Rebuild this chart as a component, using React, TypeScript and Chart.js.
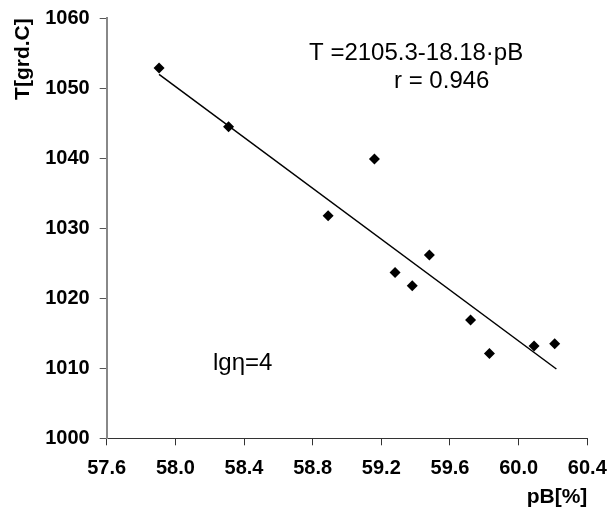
import React, { useEffect, useRef } from "react";
import { Chart, registerables } from "chart.js";

Chart.register(...registerables);

// Measured points
const pB = [57.905, 58.31, 58.89, 59.16, 59.28, 59.38, 59.48, 59.72, 59.83, 60.09, 60.21];
const T = [1052.9, 1044.5, 1031.8, 1039.9, 1023.7, 1021.8, 1026.2, 1016.9, 1012.1, 1013.2, 1013.5];

// Regression line end points
const fitX = [57.905, 60.22];
const fitY = [1052.0, 1009.9];

// Axis ticks
const xTicks = [57.6, 58.0, 58.4, 58.8, 59.2, 59.6, 60.0, 60.4];
const yTicks = [1000, 1010, 1020, 1030, 1040, 1050, 1060];

// Annotations (data coords: left x, baseline y)
const noteTexts = ["T =2105.3-18.18\u00b7pB", "r = 0.946", "lg\u03b7=4"];
const noteX = [58.779, 59.274, 58.219];
const noteY = [1054.1, 1050.0, 1009.8];

const FONT = "'Liberation Sans', Arial, Helvetica, sans-serif";

const notesPlugin = {
  id: "notes",
  afterDatasetsDraw(chart: any) {
    const { ctx, scales } = chart;
    ctx.save();
    ctx.fillStyle = "#000";
    ctx.font = `24px ${FONT}`;
    ctx.textAlign = "left";
    ctx.textBaseline = "alphabetic";
    noteTexts.forEach((t, i) => {
      const x = scales.x.getPixelForValue(noteX[i]);
      const y = scales.y.getPixelForValue(noteY[i]);
      ctx.fillText(t, x, y);
    });
    ctx.restore();
  },
};

export default function App() {
  const ref = useRef<HTMLCanvasElement | null>(null);

  useEffect(() => {
    if (!ref.current) return;
    const chart = new Chart(ref.current, {
      type: "scatter",
      data: {
        datasets: [
          {
            label: "fit",
            data: fitX.map((x, i) => ({ x, y: fitY[i] })),
            showLine: true,
            borderColor: "#000",
            borderWidth: 1.5,
            pointRadius: 0,
            fill: false,
            order: 2,
          },
          {
            label: "T",
            data: pB.map((x, i) => ({ x, y: T[i] })),
            showLine: false,
            pointStyle: "rectRot",
            pointRadius: 5.5,
            backgroundColor: "#000",
            borderColor: "#000",
            borderWidth: 0,
            order: 1,
          },
        ],
      },
      options: {
        animation: false,
        responsive: true,
        maintainAspectRatio: false,
        layout: { padding: { left: 0, right: 20.7, top: 10.3, bottom: 0 } },
        plugins: {
          legend: { display: false },
          tooltip: { enabled: false },
        },
        scales: {
          x: {
            type: "linear",
            min: 57.6,
            max: 60.4,
            afterBuildTicks: (s: any) => {
              s.ticks = xTicks.map((v) => ({ value: v }));
            },
            afterFit: (s: any) => {
              s.height = 71.7;
              s.paddingLeft = 0;
              s.paddingRight = 0;
            },
            border: { display: true, color: "#333", width: 1 },
            grid: {
              display: true,
              drawOnChartArea: false,
              drawTicks: true,
              tickLength: 7,
              color: "#333",
              lineWidth: 1,
            },
            ticks: {
              padding: 11,
              color: "#000",
              font: { family: FONT, size: 20, weight: "bold" },
              callback: (v: any) => Number(v).toFixed(1),
              maxRotation: 0,
              autoSkip: false,
            },
            title: {
              display: true,
              text: "pB[%]",
              align: "end",
              color: "#000",
              font: { family: FONT, size: 21, weight: "bold" },
              padding: { top: 0, bottom: 0 },
            },
          },
          y: {
            type: "linear",
            min: 1000,
            max: 1060,
            afterBuildTicks: (s: any) => {
              s.ticks = yTicks.map((v) => ({ value: v }));
            },
            afterFit: (s: any) => {
              s.width = 98.7;
              s.paddingTop = 0;
              s.paddingBottom = 0;
            },
            border: { display: true, color: "#888", width: 2 },
            grid: {
              display: true,
              drawOnChartArea: false,
              drawTicks: true,
              tickLength: 7,
              color: "#555",
              lineWidth: 1,
            },
            ticks: {
              padding: 10,
              color: "#000",
              font: { family: FONT, size: 20, weight: "bold" },
              callback: (v: any) => String(v),
              autoSkip: false,
            },
            title: {
              display: true,
              text: "T[grd.C]",
              align: "end",
              color: "#000",
              font: { family: FONT, size: 21, weight: "bold" },
              padding: { top: 3, bottom: 0 },
            },
          },
        },
      } as any,
      plugins: [notesPlugin],
    });
    return () => chart.destroy();
  }, []);

  return (
    <div style={{ width: 600, height: 502, position: "relative" }}>
      <canvas ref={ref} />
    </div>
  );
}
